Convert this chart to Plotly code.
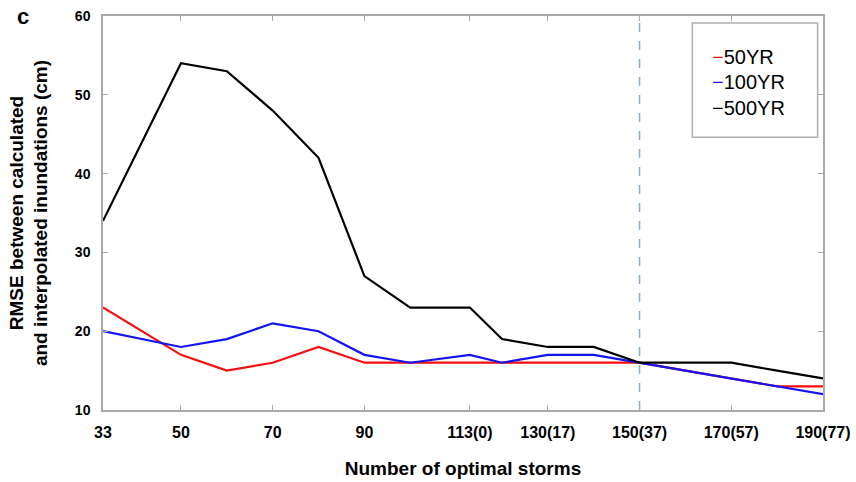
import plotly.graph_objects as go

# Data
storms = [33, 50, 60, 70, 80, 90, 100, 113, 120, 130, 140, 150, 160, 170, 180, 190]
rmse_50yr = [23, 17, 15, 16, 18, 16, 16, 16, 16, 16, 16, 16, 15, 14, 13, 13]
rmse_100yr = [20, 18, 19, 21, 20, 17, 16, 17, 16, 17, 17, 16, 15, 14, 13, 12]
rmse_500yr = [34, 54, 53, 48, 42, 27, 23, 23, 19, 18, 18, 16, 16, 16, 15, 14]

series_names = ["50YR", "100YR", "500YR"]
series_colors = ["#f51010", "#1414f0", "#000000"]
series_values = [rmse_50yr, rmse_100yr, rmse_500yr]

tick_vals = [33, 50, 70, 90, 113, 130, 150, 170, 190]
tick_text = ["33", "50", "70", "90", "113(0)", "130(17)", "150(37)", "170(57)", "190(77)"]
y_ticks = [10, 20, 30, 40, 50, 60]
marker_x = 150

FONT = "Liberation Sans, Arial, sans-serif"

fig = go.Figure()
for name, color, vals in zip(series_names, series_colors, series_values):
    fig.add_trace(go.Scatter(x=storms, y=vals, mode="lines", name=name,
                             line=dict(color=color, width=2.2), showlegend=False))

fig.add_shape(type="line", xref="x", yref="paper", x0=marker_x, x1=marker_x, y0=0, y1=1,
              line=dict(color="#86b0c8", width=1.5, dash="dash"), layer="below")

# Legend box
fig.add_shape(type="rect", xref="paper", yref="paper", x0=0.8185, x1=0.9925, y0=0.692, y1=0.982,
              line=dict(color="#b0b0b0", width=1.5), fillcolor="white")
legend_y = [0.8957, 0.8315, 0.7675]
for name, color, ly in zip(series_names, series_colors, legend_y):
    fig.add_annotation(xref="paper", yref="paper", x=0.843, y=ly, xanchor="left", yanchor="middle",
                       text=f"<span style='color:{color}'>\u2212</span>{name}", showarrow=False,
                       font=dict(family=FONT, size=20, color="black"))

fig.add_annotation(xref="paper", yref="paper", x=-0.111, y=1.0, xanchor="center", yanchor="middle",
                   text="<b>c</b>", showarrow=False, font=dict(family=FONT, size=22, color="black"))

axis_common = dict(showline=True, linecolor="#aaaaaa", linewidth=1.5, mirror="ticks",
                   ticks="inside", ticklen=5, tickcolor="#aaaaaa", tickwidth=1.2,
                   showgrid=False, zeroline=False, automargin=False)

fig.update_xaxes(range=[33, 190], tickvals=tick_vals, ticktext=tick_text, ticklabelstandoff=7,
                 tickfont=dict(family=FONT, size=16, color="black", weight="bold"),
                 title=dict(text="<b>Number of optimal storms</b>", standoff=22,
                            font=dict(family=FONT, size=19, color="black")),
                 **axis_common)
fig.update_yaxes(range=[10, 60], tickvals=y_ticks, ticklabelstandoff=8,
                 tickfont=dict(family=FONT, size=14, color="black", weight="bold"),
                 title=dict(text="<b>RMSE between calculated<br>and interpolated inundations (cm)</b>",
                            standoff=22, font=dict(family=FONT, size=19, color="black")),
                 **axis_common)

fig.update_layout(width=856, height=482, margin=dict(l=103, r=33, t=16, b=72),
                  plot_bgcolor="white", paper_bgcolor="white", showlegend=False)

fig.write_html("out.html")
